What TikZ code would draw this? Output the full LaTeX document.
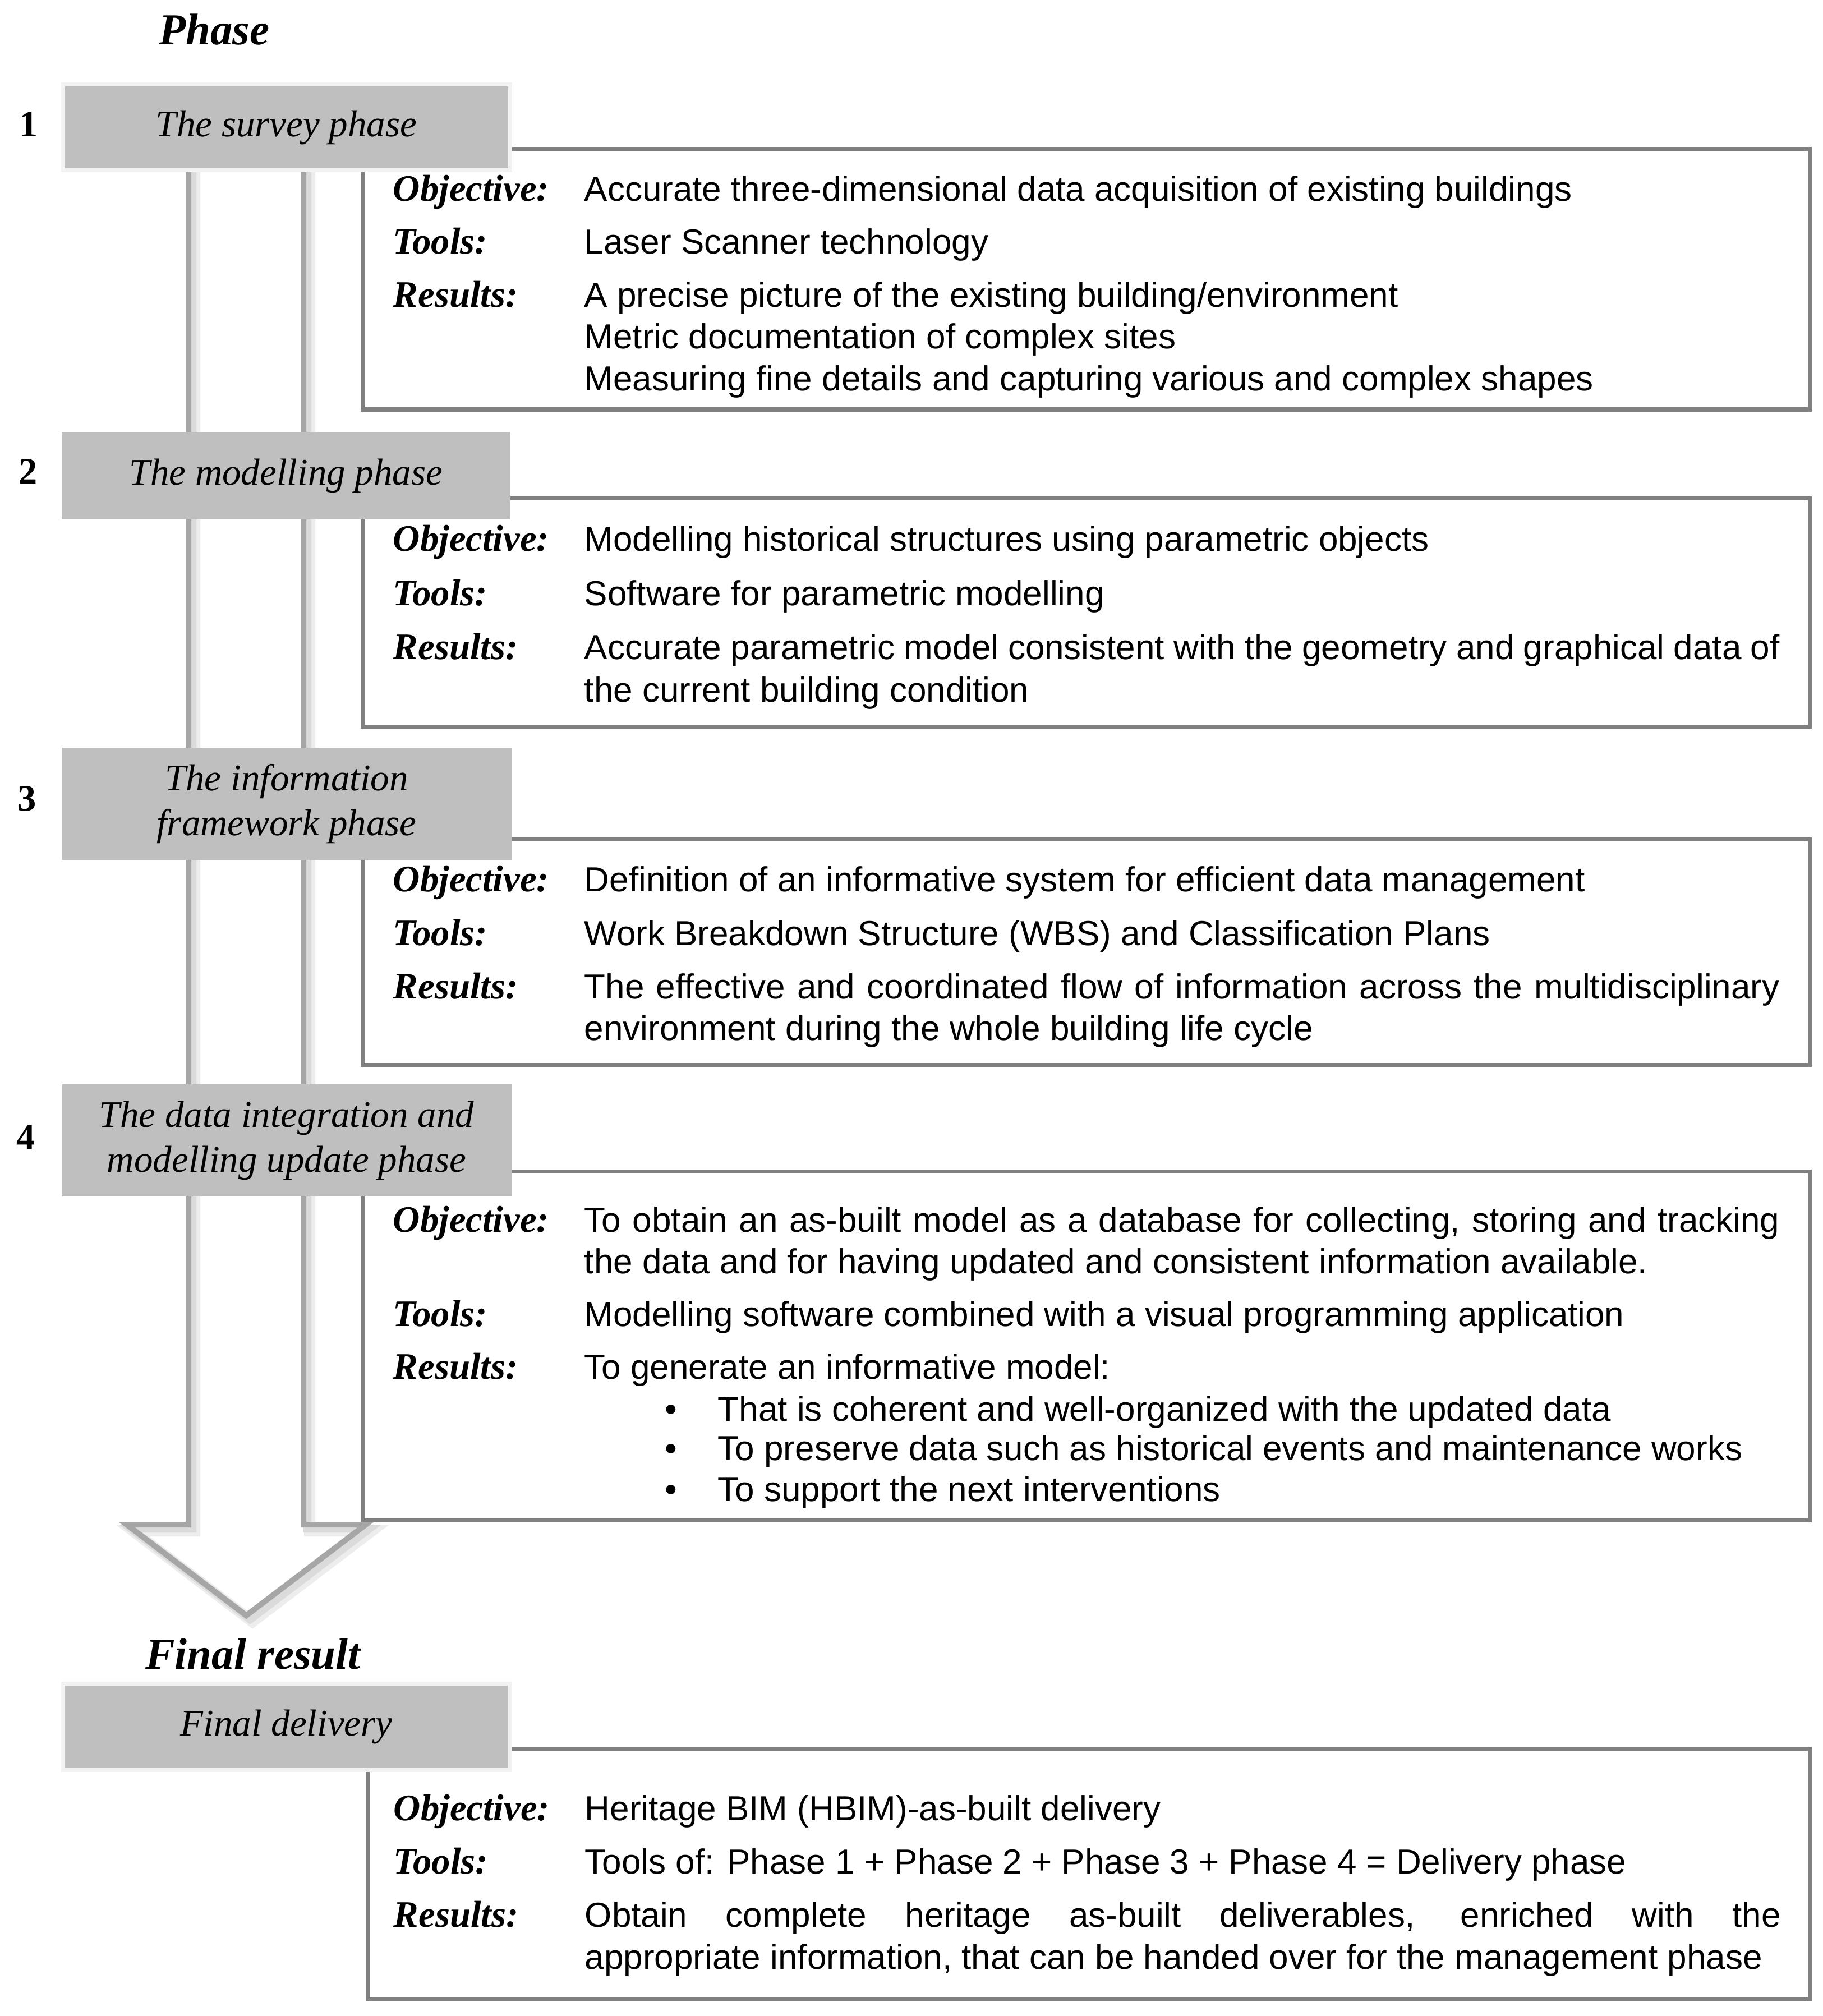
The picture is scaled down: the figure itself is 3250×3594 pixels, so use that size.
\documentclass[tikz,border=0pt]{standalone}
\usepackage{fontspec}
\setmainfont{Liberation Serif}
\newfontfamily\bodyfont{Liberation Sans}
\usetikzlibrary{fit}
\definecolor{hdrgray}{HTML}{BFBFBF}
\definecolor{hdredge}{HTML}{F2F2F2}
\definecolor{boxgray}{HTML}{808080}
\definecolor{arrgray}{HTML}{A6A6A6}
\begin{document}
\begin{tikzpicture}[x=0.25pt,y=-0.25pt,
  hdr/.style={fill=hdrgray, draw=none, inner sep=0pt, align=center,
    font=\fontsize{16.75}{20}\selectfont\itshape},
  hdrglow/.style={hdr, draw=hdredge, line width=1.75pt},
  cbox/.style={draw=boxgray, line width=1.75pt, inner sep=0pt},
  lbl/.style={inner sep=0pt, anchor=base west, font=\fontsize{16.7}{19}\selectfont\bfseries\itshape},
  bodytxt/.style={inner sep=0pt, anchor=base west, font=\bodyfont\fontsize{15.5}{18}\selectfont},
  numtxt/.style={inner sep=0pt, font=\fontsize{16.6}{19}\selectfont\bfseries},
  ttl/.style={inner sep=0pt, anchor=base, font=\fontsize{19.7}{23}\selectfont\bfseries\itshape},
  shaft/.style={draw=arrgray, line width=2.5pt, line join=miter},
  shadowa/.style={draw=black!7, line width=5pt, line join=miter},
  shadowb/.style={draw=black!14, line width=3.5pt, line join=miter}
]
\useasboundingbox (0,0) rectangle (3250,3594);
\fill[white] (0,0) rectangle (3250,3594);

% ---- big hollow arrow with soft shadow ----
\begin{scope}[shift={(11,11)}]
\draw[shadowa] (336,200) -- (336,2718) -- (226,2718) -- (439,2880) -- (652,2718) -- (541,2718) -- (541,200);
\end{scope}
\begin{scope}[shift={(7,7)}]
\draw[shadowb] (336,200) -- (336,2718) -- (226,2718) -- (439,2880) -- (652,2718) -- (541,2718) -- (541,200);
\end{scope}
\draw[shaft] (336,200) -- (336,2718) -- (226,2718) -- (439,2880) -- (652,2718) -- (541,2718) -- (541,200);

% ---- content boxes ----
\node[cbox, fit={(646,266) (3226,730)}] (c1) {};
\node[cbox, fit={(646,888) (3226,1295)}] (c2) {};
\node[cbox, fit={(646,1496) (3226,1898)}] (c3) {};
\node[cbox, fit={(646,2088) (3226,2710)}] (c4) {};
\node[cbox, fit={(655,3117) (3226,3564)}] (c5) {};

% ---- titles ----
\node[ttl] (phase) at (382,80) {Phase};
\node[ttl] (final) at (451,2975) {Final result};

% ---- phase headers ----
\node[hdrglow, minimum width=199.25pt, minimum height=38.25pt] (h1) at (510.5,227) {The survey phase};
\node[hdr, minimum width=200pt, minimum height=39pt] (h2) at (510,848) {The modelling phase};
\node[hdr, minimum width=200.5pt, minimum height=50pt] (h3) at (511,1433) {The information\\framework phase};
\node[hdr, minimum width=200.5pt, minimum height=50pt] (h4) at (511,2033) {The data integration and\\modelling update phase};
\node[hdrglow, minimum width=199pt, minimum height=38.5pt] (h5) at (510.5,3078) {Final delivery};

% ---- numbers ----
\node[numtxt] (n1) at (51,222) {1};
\node[numtxt] (n2) at (50,841) {2};
\node[numtxt] (n3) at (48,1424) {3};
\node[numtxt] (n4) at (46,2028) {4};

% ---- box 1 ----
\node[lbl] (o1) at (700,359) {Objective:};
\node[bodytxt] (o1t) at (1041,359) {Accurate three-dimensional data acquisition of existing buildings};
\node[lbl] (t1) at (700,453) {Tools:};
\node[bodytxt] (t1t) at (1041,453) {Laser Scanner technology};
\node[lbl] (r1) at (700,548) {Results:};
\node[bodytxt] (r1t) at (1041,548) {A precise picture of the existing building/environment};
\node[bodytxt] (r1u) at (1041,622) {Metric documentation of complex sites};
\node[bodytxt] (r1v) at (1041,697) {Measuring fine details and capturing various and complex shapes};

% ---- box 2 ----
\node[lbl] (o2) at (700,982) {Objective:};
\node[bodytxt] (o2t) at (1041,982) {Modelling historical structures using parametric objects};
\node[lbl] (t2) at (700,1079) {Tools:};
\node[bodytxt] (t2t) at (1041,1079) {Software for parametric modelling};
\node[lbl] (r2) at (700,1175) {Results:};
\node[bodytxt] (r2t) at (1041,1175) {\makebox[532.75pt][s]{Accurate parametric model consistent with the geometry and graphical data of}};
\node[bodytxt] (r2u) at (1041,1251) {the current building condition};

% ---- box 3 ----
\node[lbl] (o3) at (700,1589) {Objective:};
\node[bodytxt] (o3t) at (1041,1589) {Definition of an informative system for efficient data management};
\node[lbl] (t3) at (700,1685) {Tools:};
\node[bodytxt] (t3t) at (1041,1685) {Work Breakdown Structure (WBS) and Classification Plans};
\node[lbl] (r3) at (700,1780) {Results:};
\node[bodytxt] (r3t) at (1041,1780) {\makebox[532.75pt][s]{The effective and coordinated flow of information across the multidisciplinary}};
\node[bodytxt] (r3u) at (1041,1854) {environment during the whole building life cycle};

% ---- box 4 ----
\node[lbl] (o4) at (700,2196) {Objective:};
\node[bodytxt] (o4t) at (1041,2196) {\makebox[532.75pt][s]{To obtain an as-built model as a database for collecting, storing and tracking}};
\node[bodytxt] (o4u) at (1041,2270) {the data and for having updated and consistent information available.};
\node[lbl] (t4) at (700,2364) {Tools:};
\node[bodytxt] (t4t) at (1041,2364) {Modelling software combined with a visual programming application};
\node[lbl] (r4) at (700,2458) {Results:};
\node[bodytxt] (r4t) at (1041,2458) {To generate an informative model:};
\node[bodytxt, anchor=base] (b1) at (1196,2533) {•};
\node[bodytxt] (b1t) at (1279,2533) {That is coherent and well-organized with the updated data};
\node[bodytxt, anchor=base] (b2) at (1196,2603) {•};
\node[bodytxt] (b2t) at (1279,2603) {To preserve data such as historical events and maintenance works};
\node[bodytxt, anchor=base] (b3) at (1196,2676) {•};
\node[bodytxt] (b3t) at (1279,2676) {To support the next interventions};

% ---- final box ----
\node[lbl] (o5) at (701,3245) {Objective:};
\node[bodytxt] (o5t) at (1042,3245) {Heritage BIM (HBIM)-as-built delivery};
\node[lbl] (t5) at (701,3340) {Tools:};
\node[bodytxt] (t5t) at (1042,3340) {Tools of: Phase 1 + Phase 2 + Phase 3 + Phase 4 = Delivery phase};
\node[lbl] (r5) at (701,3435) {Results:};
\node[bodytxt] (r5t) at (1042,3435) {\makebox[533pt][s]{Obtain complete heritage as-built deliverables, enriched with the}};
\node[bodytxt] (r5u) at (1042,3510) {appropriate information, that can be handed over for the management phase};
\end{tikzpicture}
\end{document}
